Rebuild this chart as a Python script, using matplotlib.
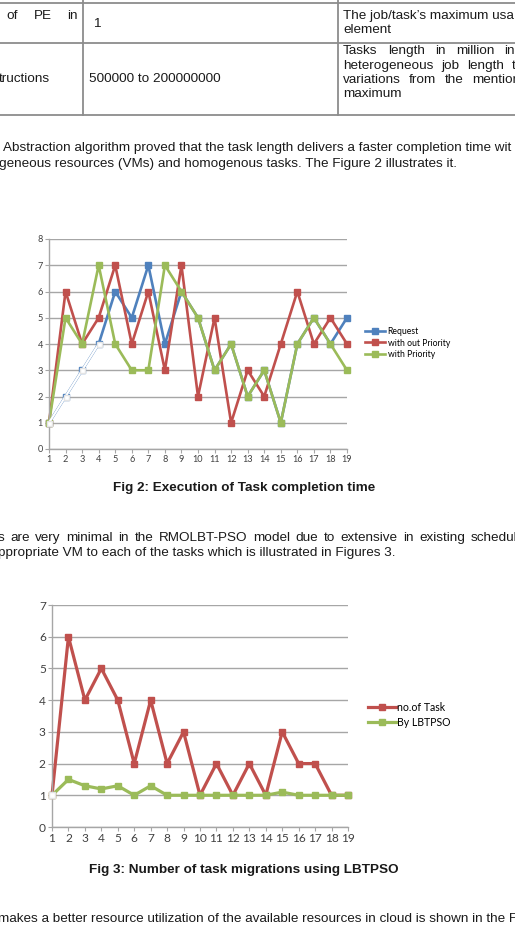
import matplotlib
matplotlib.use("Agg")
import matplotlib.pyplot as plt

W, H = 515, 952

# ---- data -------------------------------------------------------------
tasks = list(range(1, 20))

# Fig 2: execution of task completion time
request = [1, 2, 3, 4, 6, 5, 7, 4, 6, 5, 3, 4, 2, 3, 1, 4, 5, 4, 5]
without_priority = [1, 6, 4, 5, 7, 4, 6, 3, 7, 2, 5, 1, 3, 2, 4, 6, 4, 5, 4]
with_priority = [1, 5, 4, 7, 4, 3, 3, 7, 6, 5, 3, 4, 2, 3, 1, 4, 5, 4, 3]
fig2_labels = ["Request", "with out Priority", "with Priority"]

# Fig 3: number of task migrations
no_of_task = [1, 6, 4, 5, 4, 2, 4, 2, 3, 1, 2, 1, 2, 1, 3, 2, 2, 1, 1]
by_lbtpso = [1, 1.5, 1.3, 1.2, 1.3, 1, 1.3, 1, 1, 1, 1, 1, 1, 1, 1.1, 1, 1, 1, 1]
fig3_labels = ["no.of Task", "By LBTPSO"]

BLUE, RED, GREEN = "#4F81BD", "#C0504D", "#9BBB59"
GRID = "#A6A6A6"
TXT = "#1a1a1a"
FS = 9.7

fig = plt.figure(figsize=(W / 100, H / 100), dpi=100)
fig.patch.set_facecolor("white")
renderer = fig.canvas.get_renderer()


def fx(px):
    return px / W


def fy(py):
    return 1 - py / H


def ftext(x, y, s, **kw):
    kw.setdefault("fontsize", FS)
    kw.setdefault("family", "Liberation Sans")
    kw.setdefault("color", TXT)
    kw.setdefault("va", "center")
    return fig.text(fx(x), fy(y), s, **kw)


def justify(x0, x1, y, line, **kw):
    # spread the words of a line between x0 and x1 (pixels), like justified text
    words = line.split()
    arts = [ftext(x0, y, w, **kw) for w in words]
    widths = [a.get_window_extent(renderer).width for a in arts]
    gap = (x1 - x0 - sum(widths)) / max(len(words) - 1, 1)
    x = x0
    for a, w in zip(arts, widths):
        a.set_x(fx(x))
        x += w + gap


# ---- table fragment at the top -----------------------------------------
tbl = fig.add_axes([0, 0, 1, 1])
tbl.set_xlim(0, W)
tbl.set_ylim(H, 0)
tbl.axis("off")
for yy in (3, 43, 115):
    tbl.plot([0, W], [yy, yy], color="#8c8c8c", lw=1.3)
for xx in (83, 338):
    tbl.plot([xx, xx], [0, 115], color="#8c8c8c", lw=1.3)

justify(6, 78, 16, "of PE in")
ftext(93, 24, "1")
ftext(343, 16, "The job/task\u2019s maximum usa")
ftext(343, 30, "element")
ftext(-1, 79, "tructions")
ftext(89, 79, "500000 to 200000000")
justify(343, 515, 51, "Tasks length in million in")
justify(343, 516, 66, "heterogeneous job length t")
justify(343, 520, 80, "variations from the mention")
ftext(343, 94, "maximum")

# ---- paragraphs and captions -------------------------------------------
ftext(3, 148, "Abstraction algorithm proved that the task length delivers a faster completion time wit")
ftext(-1, 164, "geneous resources (VMs) and homogenous tasks. The Figure 2 illustrates it.")
ftext(244, 488, "Fig 2: Execution of Task completion time", ha="center", weight="bold")
justify(-2, 517, 538, "s are very minimal in the RMOLBT-PSO model due to extensive in existing schedul")
ftext(-2, 553, "ppropriate VM to each of the tasks which is illustrated in Figures 3.")
ftext(244, 870, "Fig 3: Number of task migrations using LBTPSO", ha="center", weight="bold")
ftext(-2, 919, "makes a better resource utilization of the available resources in cloud is shown in the Fi")


def style_axes(ax, ymax, fs):
    ax.set_xlim(1, 19)
    ax.set_ylim(0, ymax)
    ax.set_xticks(tasks)
    ax.set_yticks(range(0, ymax + 1))
    ax.grid(axis="y", color=GRID, lw=1.0)
    ax.set_axisbelow(True)
    for side in ("top", "right"):
        ax.spines[side].set_visible(False)
    for side in ("left", "bottom"):
        ax.spines[side].set_color(GRID)
        ax.spines[side].set_linewidth(1.0)
    ax.tick_params(colors=GRID, length=3, width=0.8, labelsize=fs,
                   labelcolor="#404040", pad=1.5)
    for lab in ax.get_xticklabels() + ax.get_yticklabels():
        lab.set_family("Lato")


# ---- Fig 2 chart ---------------------------------------------------------
ax1 = fig.add_axes([fx(49), fy(449), fx(347 - 49), (449 - 239) / H])
style_axes(ax1, 8, 6.6)
mk = dict(marker="s", ms=3.8, lw=1.9, clip_on=False)
l1, = ax1.plot(tasks, request, color=BLUE, **mk)
l2, = ax1.plot(tasks, without_priority, color=RED, **mk)
l3, = ax1.plot(tasks, with_priority, color=GREEN, **mk)
# washed-out start of the Request series, as in the scan
ax1.plot(tasks[:4], request[:4], color="white", lw=1.6, marker="s", ms=3.6,
         mfc="white", mec="#e4e4e4", clip_on=False, zorder=4)
fig.legend([l1, l2, l3], fig2_labels, loc="center left",
           bbox_to_anchor=(fx(361), fy(343)), frameon=False,
           prop={"family": "Lato", "size": 6.2}, handlelength=2.3,
           handletextpad=0.3, labelspacing=0.3, borderpad=0)

# ---- Fig 3 chart ---------------------------------------------------------
ax2 = fig.add_axes([fx(52), fy(827), fx(348 - 52), (827 - 605) / H])
style_axes(ax2, 7, 8.6)
mk2 = dict(marker="s", ms=4.6, lw=2.3, clip_on=False)
m1, = ax2.plot(tasks, no_of_task, color=RED, **mk2)
m2, = ax2.plot(tasks, by_lbtpso, color=GREEN, **mk2)
ax2.plot(tasks[:1], no_of_task[:1], ls="none", marker="s", ms=4.6,
         mfc="white", mec="#e4e4e4", clip_on=False, zorder=4)
fig.legend([m1, m2], fig3_labels, loc="center left",
           bbox_to_anchor=(fx(363), fy(715)), frameon=False,
           prop={"family": "Lato", "size": 7.6}, handlelength=2.6,
           handletextpad=0.1, labelspacing=0.35, borderpad=0)

fig.savefig("out.png", dpi=100, facecolor="white")
